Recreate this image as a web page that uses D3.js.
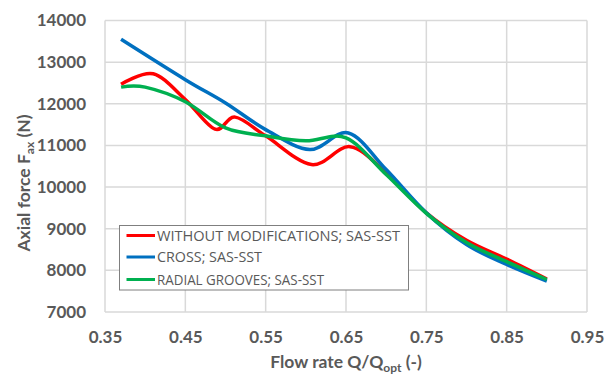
<!DOCTYPE html>
<html>
<head>
<meta charset="utf-8">
<script src="https://cdn.jsdelivr.net/npm/d3@7"></script>
<style>
  body { margin: 0; background: #fff; }
</style>
</head>
<body>
<div id="chart"></div>
<script>
// data
const xRed = [0.37, 0.41, 0.45, 0.487, 0.512, 0.55, 0.607, 0.655, 0.70, 0.75, 0.80, 0.85, 0.90];
const yRed = [12470, 12720, 12100, 11390, 11680, 11230, 10540, 10970, 10340, 9380, 8720, 8270, 7790];
const xBlue = [0.37, 0.45, 0.50, 0.55, 0.605, 0.653, 0.70, 0.75, 0.80, 0.85, 0.90];
const yBlue = [13550, 12580, 12020, 11380, 10900, 11300, 10420, 9380, 8620, 8140, 7740];
const xGreen = [0.37, 0.40, 0.45, 0.50, 0.55, 0.60, 0.65, 0.70, 0.75, 0.80, 0.85, 0.90];
const yGreen = [12400, 12400, 12050, 11420, 11230, 11110, 11180, 10300, 9370, 8670, 8210, 7780];
const seriesNames = ["WITHOUT MODIFICATIONS; SAS-SST", "CROSS; SAS-SST", "RADIAL GROOVES; SAS-SST"];
const seriesColors = ["#FF0000", "#0070C0", "#00B050"];
const xTicks = [0.35, 0.45, 0.55, 0.65, 0.75, 0.85, 0.95];
const yTicks = [7000, 8000, 9000, 10000, 11000, 12000, 13000, 14000];

const FONT = "Lato, 'Open Sans', sans-serif";
const COLOR_TEXT = "#595959";
const COLOR_GRID = "#D9D9D9";

const width = 613, height = 376;
const plot = { left: 105, right: 587, top: 20.5, bottom: 312 };

const svg = d3.select("#chart").append("svg")
    .attr("width", width)
    .attr("height", height)
    .attr("font-family", FONT);

const x = d3.scaleLinear().domain([0.35, 0.95]).range([plot.left, plot.right]);
const y = d3.scaleLinear().domain([7000, 14000]).range([plot.bottom, plot.top]);

// grid
const grid = svg.append("g").attr("class", "grid");
grid.selectAll("line.h").data(yTicks).enter().append("line")
    .attr("x1", plot.left).attr("x2", plot.right)
    .attr("y1", d => y(d)).attr("y2", d => y(d))
    .attr("stroke", COLOR_GRID).attr("stroke-width", 1.5);
grid.selectAll("line.v").data(xTicks).enter().append("line")
    .attr("y1", plot.top).attr("y2", plot.bottom)
    .attr("x1", d => x(d)).attr("x2", d => x(d))
    .attr("stroke", COLOR_GRID).attr("stroke-width", 1.5);

// axes (labels only)
svg.append("g")
    .attr("transform", "translate(" + plot.left + ",0)")
    .call(d3.axisLeft(y).tickValues(yTicks).tickFormat(d3.format("d")).tickSize(0).tickPadding(19))
    .call(g => {
        g.select(".domain").remove();
        g.selectAll("text").attr("font-size", "17px").attr("font-weight", "bold")
            .attr("fill", COLOR_TEXT).attr("font-family", FONT);
    });
svg.append("g")
    .attr("transform", "translate(0," + plot.bottom + ")")
    .call(d3.axisBottom(x).tickValues(xTicks).tickFormat(d3.format(".2f")).tickSize(0).tickPadding(19))
    .call(g => {
        g.select(".domain").remove();
        g.selectAll("text").attr("font-size", "17px").attr("font-weight", "bold")
            .attr("fill", COLOR_TEXT).attr("font-family", FONT);
    });

// axis titles
const xTitle = svg.append("text")
    .attr("x", 346).attr("y", 368)
    .attr("text-anchor", "middle")
    .attr("font-size", "17.5px").attr("font-weight", "bold").attr("fill", COLOR_TEXT);
xTitle.append("tspan").text("Flow rate Q/Q");
xTitle.append("tspan").attr("font-size", "12px").attr("dy", 4).text("opt");
xTitle.append("tspan").attr("dy", -4).text(" (-)");

const yTitle = svg.append("text")
    .attr("transform", "translate(30,183) rotate(-90)")
    .attr("text-anchor", "middle")
    .attr("font-size", "17.5px").attr("font-weight", "bold").attr("fill", COLOR_TEXT);
yTitle.append("tspan").text("Axial force F");
yTitle.append("tspan").attr("font-size", "12px").attr("dy", 4).text("ax");
yTitle.append("tspan").attr("dy", -4).text(" (N)");

// lines
const series = [
    { xs: xRed, ys: yRed },
    { xs: xBlue, ys: yBlue },
    { xs: xGreen, ys: yGreen }
];
const line = d3.line()
    .x(d => x(d[0]))
    .y(d => y(d[1]))
    .curve(d3.curveCardinal.tension(0));
const lineLayer = svg.append("g").attr("class", "lines");
series.forEach((s, i) => {
    lineLayer.append("path")
        .datum(s.xs.map((v, j) => [v, s.ys[j]]))
        .attr("fill", "none")
        .attr("stroke", seriesColors[i])
        .attr("stroke-width", 3.5)
        .attr("stroke-linejoin", "round")
        .attr("d", line);
});

// legend
const legend = svg.append("g").attr("class", "legend");
legend.append("rect")
    .attr("x", 119.5).attr("y", 225.5)
    .attr("width", 289).attr("height", 64.5)
    .attr("fill", "#fff").attr("stroke", "#7F7F7F").attr("stroke-width", 1);
const rowY = [235.5, 257, 279.5];
seriesNames.forEach((name, i) => {
    legend.append("line")
        .attr("x1", 126.5).attr("x2", 155)
        .attr("y1", rowY[i]).attr("y2", rowY[i])
        .attr("stroke", seriesColors[i]).attr("stroke-width", 3);
    legend.append("text")
        .attr("x", 157).attr("y", rowY[i] + 5)
        .attr("font-size", "14px").attr("fill", COLOR_TEXT)
        .attr("font-family", "'Open Sans', sans-serif")
        .attr("textLength", [243, 105, 167][i])
        .attr("lengthAdjust", "spacingAndGlyphs")
        .text(name);
});
</script>
</body>
</html>
